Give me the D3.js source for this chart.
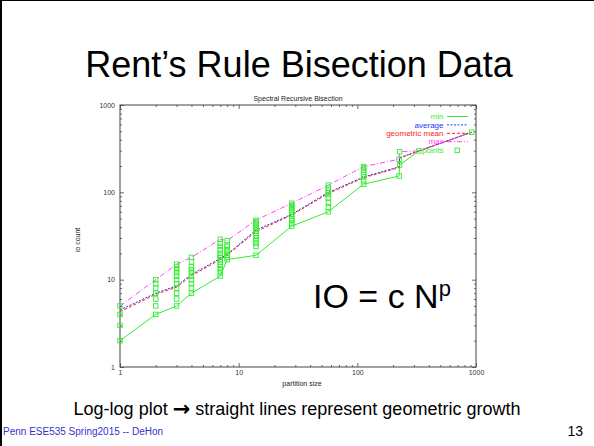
<!DOCTYPE html>
<html>
<head>
<meta charset="utf-8">
<script src="https://cdn.jsdelivr.net/npm/d3@7"></script>
<style>
  body { margin: 0; background: #fff; }
  svg { display: block; }
  text { font-family: "Liberation Sans", Arial, Helvetica, sans-serif; }
</style>
</head>
<body>
<div id="slide"></div>
<script>
// partition sizes (x) and io counts per size
const sizes = [1, 2, 3, 4, 7, 8, 14, 28, 57, 113, 225, 227, 330, 920];
const minIO = [2, 4, 5, 7, 11, 17, 19, 41, 60, 124, 154, 206, 298, 488];
const avgIO = [4.5, 7, 8.5, 11.5, 17.5, 19.5, 37, 56, 100, 150, 196, 249, 298, 488];
const geoIO = [4.3, 6.8, 8.2, 11.1, 17, 19.2, 35.5, 55, 97, 147, 192, 246, 298, 488];
const maxIO = [5, 10, 15, 18, 29, 28, 48, 75, 121, 197, 239, 292, 298, 488];
const pointIO = [
  [2, 3, 4, 5],
  [4, 5, 6, 7, 8, 9, 10],
  [5, 6, 7, 8, 9, 10, 11, 12, 13, 14, 15],
  [7, 8, 9, 10, 11, 12, 13, 14, 16, 18],
  [11, 12, 13, 14, 15, 16, 17, 18, 19, 20, 22, 24, 26, 29],
  [17, 18, 19, 20, 21, 22, 24, 25, 28],
  [19, 24, 26, 28, 30, 32, 34, 36, 38, 40, 42, 44, 46, 48],
  [41, 44, 48, 50, 53, 56, 59, 62, 65, 68, 71, 75],
  [60, 67, 77, 86, 94, 100, 106, 112, 121],
  [124, 135, 150, 160, 170, 180, 190, 197],
  [154, 239],
  [206, 292],
  [298],
  [488]
];
const majorTicks = [1, 10, 100, 1000];
const minorTicks = [2, 3, 4, 5, 6, 7, 8, 9, 20, 30, 40, 50, 60, 70, 80, 90, 200, 300, 400, 500, 600, 700, 800, 900];

const series = [
  { name: "min", values: minIO, color: "#33ee33", dash: null },
  { name: "average", values: avgIO, color: "#2233ff", dash: "2,1.5" },
  { name: "geometric mean", values: geoIO, color: "#ff1a1a", dash: "3,2" },
  { name: "max", values: maxIO, color: "#ff44ff", dash: "5,2,1,2" }
];

let W = 594, H = 446;
let plot = { left: 120, right: 476, top: 105, bottom: 367 };

let svg = d3.select("#slide").append("svg")
  .attr("width", W)
  .attr("height", H);

svg.append("rect").attr("width", W).attr("height", H).attr("fill", "#fff");
// slide frame edges
svg.append("line").attr("x1", 1).attr("x2", 1).attr("y1", 0).attr("y2", H)
  .attr("stroke", "#000").attr("stroke-width", 2);
svg.append("line").attr("x1", 0).attr("x2", W).attr("y1", 0.5).attr("y2", 0.5)
  .attr("stroke", "#000").attr("stroke-width", 1);

svg.append("text")
  .attr("x", 299).attr("y", 77)
  .attr("text-anchor", "middle")
  .attr("font-size", 36)
  .attr("fill", "#000")
  .text("Rent\u2019s Rule Bisection Data");

let x = d3.scaleLog().domain([1, 1000]).range([plot.left, plot.right]);
let y = d3.scaleLog().domain([1, 1000]).range([plot.bottom, plot.top]);

let fmt = (d) => String(d);

function axisGroup(axis, tx, ty) {
  let g = svg.append("g")
    .attr("transform", "translate(" + tx + "," + ty + ")")
    .call(axis);
  g.select(".domain").remove();
  g.selectAll("line").attr("stroke", "#444").attr("stroke-width", 0.8);
  g.selectAll("text").attr("font-size", 7).attr("fill", "#333")
    .style("font-family", "'Liberation Sans', Arial, sans-serif");
  return g;
}

// major + minor ticks on all four sides, pointing inward
axisGroup(d3.axisBottom(x).tickValues(majorTicks).tickFormat(fmt).tickSize(-4).tickPadding(3), 0, plot.bottom);
axisGroup(d3.axisBottom(x).tickValues(minorTicks).tickFormat("").tickSize(-2), 0, plot.bottom);
axisGroup(d3.axisTop(x).tickValues(majorTicks).tickFormat("").tickSize(-4), 0, plot.top);
axisGroup(d3.axisTop(x).tickValues(minorTicks).tickFormat("").tickSize(-2), 0, plot.top);
axisGroup(d3.axisLeft(y).tickValues(majorTicks).tickFormat(fmt).tickSize(-4).tickPadding(5), plot.left, 0);
axisGroup(d3.axisLeft(y).tickValues(minorTicks).tickFormat("").tickSize(-2), plot.left, 0);
axisGroup(d3.axisRight(y).tickValues(majorTicks).tickFormat("").tickSize(-4), plot.right, 0);
axisGroup(d3.axisRight(y).tickValues(minorTicks).tickFormat("").tickSize(-2), plot.right, 0);

svg.append("rect")
  .attr("x", plot.left).attr("y", plot.top)
  .attr("width", plot.right - plot.left)
  .attr("height", plot.bottom - plot.top)
  .attr("fill", "none")
  .attr("stroke", "#444")
  .attr("stroke-width", 1);

svg.append("text")
  .attr("x", 298).attr("y", 100.5)
  .attr("text-anchor", "middle")
  .attr("font-size", 7)
  .attr("fill", "#222")
  .text("Spectral Recursive Bisection");

svg.append("text")
  .attr("x", 302).attr("y", 386)
  .attr("text-anchor", "middle")
  .attr("font-size", 7)
  .attr("fill", "#222")
  .text("partition size");

svg.append("text")
  .attr("transform", "translate(80,240) rotate(-90)")
  .attr("text-anchor", "middle")
  .attr("font-size", 7)
  .attr("fill", "#222")
  .text("io count");

// series lines
let line = d3.line()
  .x((d) => x(d[0]))
  .y((d) => y(d[1]));

series.forEach((s) => {
  svg.append("path")
    .datum(sizes.map((n, i) => [n, s.values[i]]))
    .attr("d", line)
    .attr("fill", "none")
    .attr("stroke", s.color)
    .attr("stroke-width", 1)
    .attr("stroke-dasharray", s.dash);
});

// points
let pts = [];
sizes.forEach((n, i) => pointIO[i].forEach((v) => pts.push([n, v])));

svg.selectAll(".pt")
  .data(pts)
  .enter()
  .append("rect")
  .attr("class", "pt")
  .attr("x", (d) => x(d[0]) - 2.25)
  .attr("y", (d) => y(d[1]) - 2.25)
  .attr("width", 4.5)
  .attr("height", 4.5)
  .attr("fill", "none")
  .attr("stroke", "#33ee33")
  .attr("stroke-width", 0.9);

// legend
let legend = series.map((s) => s).concat([{ name: "points", color: "#33ee33", point: true }]);
let lg = svg.append("g");
legend.forEach((s, i) => {
  let ly = 116.5 + i * 8.4;
  lg.append("text")
    .attr("x", 443.5).attr("y", ly + 2.6)
    .attr("text-anchor", "end")
    .attr("font-size", 8)
    .attr("fill", s.color)
    .text(s.name);
  if (s.point) {
    lg.append("rect")
      .attr("x", 455).attr("y", ly - 2)
      .attr("width", 4.5).attr("height", 4.5)
      .attr("fill", "none")
      .attr("stroke", s.color)
      .attr("stroke-width", 0.9);
  } else {
    lg.append("line")
      .attr("x1", 447).attr("x2", 468)
      .attr("y1", ly).attr("y2", ly)
      .attr("stroke", s.color)
      .attr("stroke-width", 1)
      .attr("stroke-dasharray", s.dash);
  }
});

// equation
let eq = svg.append("text")
  .attr("x", 313).attr("y", 308)
  .attr("font-size", 34)
  .attr("fill", "#000");
eq.append("tspan").text("IO = c N");
eq.append("tspan").attr("font-size", 22).attr("dy", -12).text("p");

let cap = svg.append("text")
  .attr("x", 297).attr("y", 415)
  .attr("text-anchor", "middle")
  .attr("font-size", 18)
  .attr("fill", "#000");
cap.append("tspan").text("Log-log plot ");
cap.append("tspan").style("font-family", "'DejaVu Sans', sans-serif")
  .attr("font-size", 21).attr("font-weight", "bold").attr("dy", 1).text("\u2192");
cap.append("tspan").attr("dy", -1).text(" straight lines represent geometric growth");

svg.append("text")
  .attr("x", 3).attr("y", 435)
  .attr("font-size", 10)
  .attr("fill", "#3333cc")
  .text("Penn ESE535 Spring2015 -- DeHon");

svg.append("text")
  .attr("x", 583).attr("y", 436)
  .attr("text-anchor", "end")
  .attr("font-size", 14)
  .attr("fill", "#000")
  .text("13");
</script>
</body>
</html>
